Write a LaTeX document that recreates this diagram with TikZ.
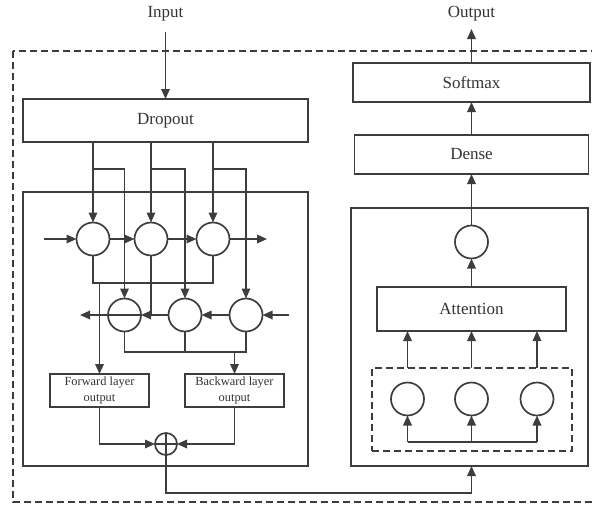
\documentclass[tikz,border=0pt]{standalone}
\usepackage{fontspec}
\setmainfont{Liberation Serif}
\usetikzlibrary{arrows.meta,calc}
\begin{document}
\begin{tikzpicture}[x=1pt,y=-1pt,
  line width=1.7pt, draw=black!76,
  every node/.style={text=black!80, font=\fontsize{17}{20}\selectfont, inner sep=0pt, outer sep=0pt},
  arr/.style={-{Triangle[length=10pt,width=8.5pt]}},
  box/.style={draw, rectangle},
  smallbox/.style={draw, rectangle, align=center, font=\fontsize{12.4}{15.7}\selectfont, minimum width=99pt, minimum height=33pt},
  neuron/.style={draw, circle, minimum size=33pt},
  dashedline/.style={dash pattern=on 7pt off 4pt, line width=1.5pt}]
\useasboundingbox (0,0) rectangle (592,506);

% outer dashed frame (right side lies beyond the picture)
\draw[dashedline] (13,51) rectangle (597,502);

% ---------- left column ----------
\node (input) at (165.5,14) {Input};
\coordinate (intop) at (165.5,32);
\node[box, minimum width=285pt, minimum height=43pt] (drop) at (165.5,120.5) {Dropout};
\node[box, minimum width=285pt, minimum height=274pt] (lbox) at (165.5,329) {};
\draw[arr] (intop) -- (drop.north);

\node[neuron] (t1) at (93,239) {};
\node[neuron] (t2) at (151,239) {};
\node[neuron] (t3) at (213,239) {};
\node[neuron] (b1) at (124.5,315) {};
\node[neuron] (b2) at (185,315) {};
\node[neuron] (b3) at (246,315) {};

% dropout to cells
\coordinate (br1) at (93,169);
\coordinate (br2) at (151,169);
\coordinate (br3) at (213,169);
\draw[arr] (t1 |- drop.south) -- (t1.north);
\draw[arr] (t2 |- drop.south) -- (t2.north);
\draw[arr] (t3 |- drop.south) -- (t3.north);
\draw[arr] (br1) -| (b1.north);
\draw[arr] (br2) -| (b2.north);
\draw[arr] (br3) -| (b3.north);

% forward row
\coordinate (tin) at (44,239);
\coordinate (tout) at (267,239);
\draw[arr] (tin) -- (t1.west);
\draw[arr] (t1.east) -- (t2.west);
\draw[arr] (t2.east) -- (t3.west);
\draw[arr] (t3.east) -- (tout);

% backward row
\coordinate (bin) at (289,315);
\coordinate (bout) at (80,315);
\draw[arr] (bin) -- (b3.east);
\draw[arr] (b3.west) -- (b2.east);
\draw[arr] (b2.west) -- (b1.east);
\draw[arr] (b1.east) -- (bout);

% forward merge
\coordinate (m1) at (93,283);
\coordinate (m3) at (213,283);
\coordinate (fwtop) at (99.5,283);
\coordinate (t2end) at (151,315);
\draw (t1.south) -- (m1) -- (m3) -- (t3.south);
\draw (t2.south) -- (t2end);

% backward merge
\coordinate (n1) at (124.5,352);
\coordinate (n2) at (185,352);
\coordinate (n3) at (246,352);
\coordinate (bwtop) at (234.5,352);
\draw (b1.south) -- (n1) -- (n3) -- (b3.south);
\draw (b2.south) -- (n2);

\node[smallbox] (fw) at (99.5,390.5) {Forward layer\\output};
\node[smallbox] (bw) at (234.5,390.5) {Backward layer\\output};
\draw[arr] (fwtop) -- (fw.north);
\draw[arr] (bwtop) -- (bw.north);

\node[draw, circle, minimum size=22pt] (plus) at (166,444) {};
\draw (plus.north) -- (plus.south);
\draw (plus.west) -- (plus.east);
\draw[arr] (fw.south) |- (plus.west);
\draw[arr] (bw.south) |- (plus.east);

% ---------- right column ----------
\node (output) at (471.5,14) {Output};
\coordinate (outtip) at (471.5,29);
\node[box, minimum width=237pt, minimum height=39pt] (soft) at (471.5,82.5) {Softmax};
\node[box, minimum width=234pt, minimum height=39pt] (dense) at (471.5,154.5) {Dense};
\node[box, minimum width=237pt, minimum height=258pt] (rbox) at (469.5,337) {};
\node[neuron] (c0) at (471.5,242) {};
\node[box, minimum width=189pt, minimum height=44pt] (att) at (471.5,309) {Attention};
\node[draw, dashedline, minimum width=200pt, minimum height=83pt] (inner) at (472,409.5) {};
\node[neuron] (a1) at (407.5,399) {};
\node[neuron] (a2) at (471.5,399) {};
\node[neuron] (a3) at (537,399) {};

\draw[arr] (soft.north) -- (outtip);
\draw[arr] (dense.north) -- (soft.south);
\draw[arr] (c0.north) -- (dense.south);
\draw[arr] (att.north) -- (c0.south);
\draw[arr] (a1 |- inner.north) -- (a1 |- att.south);
\draw[arr] (a2 |- inner.north) -- (a2 |- att.south);
\draw[arr] (a3 |- inner.north) -- (a3 |- att.south);

\coordinate (k1) at (407.5,442);
\coordinate (k2) at (471.5,442);
\coordinate (k3) at (537,442);
\draw (k1) -- (k3);
\draw[arr] (k1) -- (a1.south);
\draw[arr] (k2) -- (a2.south);
\draw[arr] (k3) -- (a3.south);

% link between the two parts
\coordinate (link) at (471.5,493);
\draw[arr] (plus.south) |- (link) -- (link |- rbox.south);
\end{tikzpicture}
\end{document}
